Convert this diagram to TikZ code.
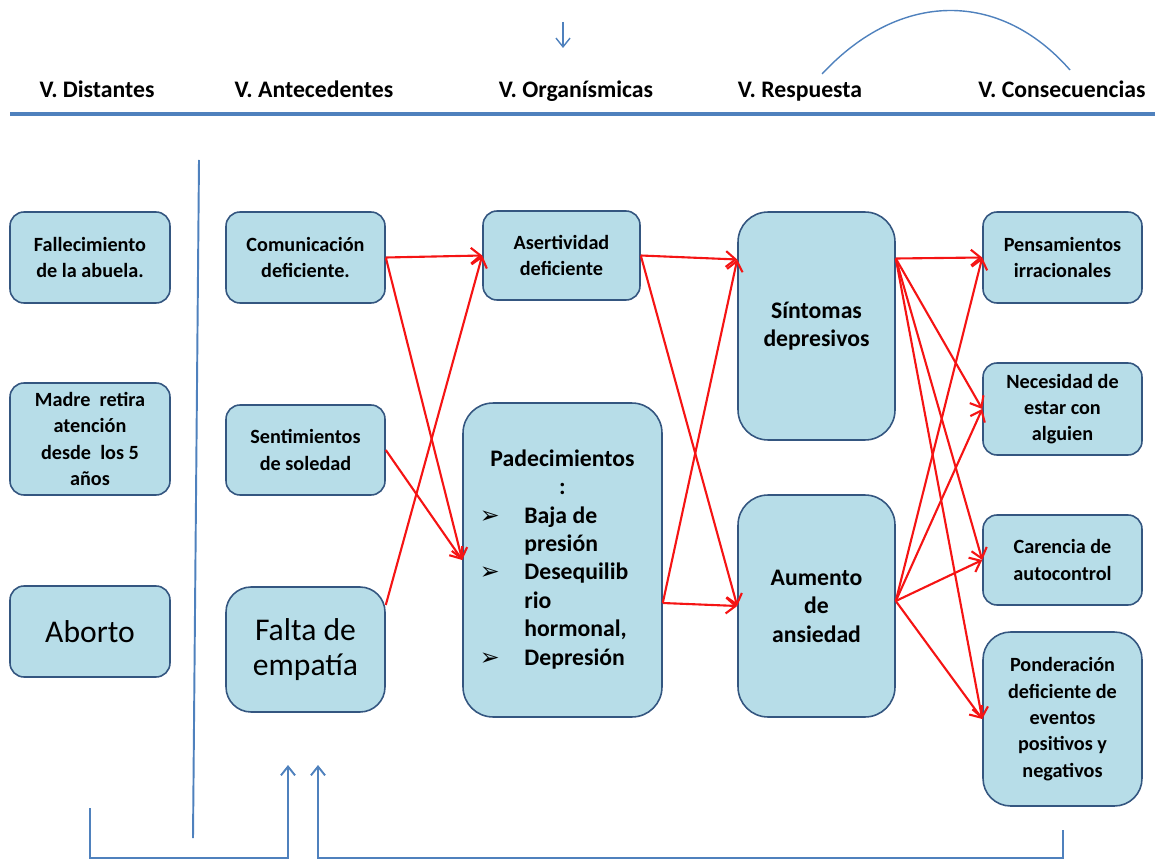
\documentclass[tikz,border=0pt]{standalone}
\usepackage{fontspec}
\setmainfont{Carlito}
\newfontfamily\dingfont{DejaVu Sans}
\usepackage{xcolor}
\usepackage{tikz}
\usetikzlibrary{arrows.meta,positioning,calc}
\definecolor{boxblue}{RGB}{183,221,232}
\definecolor{borderblue}{RGB}{52,86,128}
\definecolor{lineblue}{RGB}{79,129,189}
\definecolor{arrowred}{RGB}{245,20,20}

\begin{document}
\begin{tikzpicture}[x=0.02cm, y=-0.02cm,
    box/.style={rectangle, rounded corners=0.28cm, draw=borderblue, line width=0.9pt, fill=boxblue, align=center, inner sep=0pt, font=\bfseries\fontsize{11.5}{15}\selectfont},
    bigbox/.style={box, rounded corners=0.6cm, font=\bfseries\fontsize{13.5}{16.2}\selectfont},
    largetext/.style={font=\fontsize{18}{20}\selectfont},
    head/.style={anchor=base, font=\bfseries\fontsize{13.5}{16}\selectfont},
    redarrow/.style={draw=arrowred, line width=1.2pt, -{Straight Barb[length=5.5pt,width=9pt]}},
    blueline/.style={draw=lineblue, line width=1.1pt},
    bluearrow/.style={blueline, -{Straight Barb[length=5pt,width=8pt]}}]
  \useasboundingbox (0,0) rectangle (1155,861);

  % column titles
  \node[head] (hdist) at (97,98) {V. Distantes};
  \node[head] (hante) at (314,98) {V. Antecedentes};
  \node[head] (horg) at (576,98) {V. Organísmicas};
  \node[head] (hresp) at (800,98) {V. Respuesta};
  \node[head] (hcons) at (1062,98) {V. Consecuencias};

  % free line ends
  \coordinate (rulel) at (10,114);
  \coordinate (ruler) at (1155,114);
  \coordinate (downtop) at (563,22);
  \coordinate (downbot) at (563,48);
  \coordinate (arcl) at (822,74);
  \coordinate (arcr) at (1070,70);
  \coordinate (divtop) at (199,160);
  \coordinate (divbot) at (193,838);
  \coordinate (lbstart) at (90,808);
  \coordinate (lbtip) at (288,765);
  \coordinate (rbstart) at (1063,830);
  \coordinate (rbtip) at (318,765);

  % distant
  \node[box, minimum width=3.2cm, minimum height=1.82cm] (fall) at (90,257.5) {Fallecimiento\\de la abuela.};
  \node[box, minimum width=3.2cm, minimum height=2.24cm] (madre) at (90,439) {Madre~~retira\\atención\\desde~~los 5\\años};
  \node[box, largetext, minimum width=3.2cm, minimum height=1.82cm] (aborto) at (90,631.5) {Aborto};

  % antecedents
  \node[box, minimum width=3.18cm, minimum height=1.82cm] (com) at (305.5,257.5) {Comunicación\\deficiente.};
  \node[box, minimum width=3.18cm, minimum height=1.8cm] (sent) at (305.5,450) {Sentimientos\\de soledad};
  \node[box, largetext, rounded corners=0.5cm, minimum width=3.18cm, minimum height=2.5cm] (falta) at (305.5,649.5) {Falta de\\empatía};

  % organismic
  \node[box, minimum width=3.14cm, minimum height=1.78cm] (ase) at (561.5,255.5) {Asertividad\\deficiente};
  \node[bigbox, minimum width=3.98cm, minimum height=6.28cm] (pad) at (562.5,560) {%
    \begin{tabular}{@{}l@{\hspace{14pt}}l@{}}
      \multicolumn{2}{c}{Padecimientos}\\
      \multicolumn{2}{c}{:}\\
      {\dingfont\mdseries ➢} & Baja de\\
       & presión\\
      {\dingfont\mdseries ➢} & Desequilib\\
       & rio\\
       & hormonal,\\
      {\dingfont\mdseries ➢} & Depresión
    \end{tabular}};

  % response
  \node[bigbox, minimum width=3.14cm, minimum height=4.56cm] (sint) at (816.5,326) {Síntomas\\depresivos};
  \node[bigbox, minimum width=3.14cm, minimum height=4.44cm] (aum) at (816.5,606) {Aumento\\de\\ansiedad};

  % consequences
  \node[box, minimum width=3.18cm, minimum height=1.82cm] (pens) at (1062.5,257.5) {Pensamientos\\irracionales};
  \node[box, minimum width=3.18cm, minimum height=1.84cm] (nec) at (1062.5,409) {Necesidad de\\estar con\\alguien};
  \node[box, minimum width=3.18cm, minimum height=1.8cm] (car) at (1062.5,560) {Carencia de\\autocontrol};
  \node[box, rounded corners=0.55cm, minimum width=3.18cm, minimum height=3.48cm] (pond) at (1062.5,719) {Ponderación\\deficiente de\\eventos\\positivos y\\negativos};

  % red links
  \draw[redarrow] (com.east) -- (ase.west);
  \draw[redarrow] (com.east) -- (pad.west);
  \draw[redarrow] (sent.east) -- (pad.west);
  \draw[redarrow] (falta.29) -- (ase.west);
  \draw[redarrow] (ase.east) -- ($(sint.west |- ase.east)+(0,4)$);
  \draw[redarrow] (ase.east) -- (aum.west);
  \draw[redarrow] ($(pad.east |- aum.west)+(0,-3)$) -- (aum.west);
  \draw[redarrow] ($(pad.east |- aum.west)+(0,-3)$) -- ($(sint.west |- ase.east)+(0,4)$);
  \foreach \dest in {pens,nec,car,pond} {
    \draw[redarrow] ($(sint.east |- pens.west)+(0,1)$) -- (\dest.west);
    \draw[redarrow] ($(aum.east)+(0,-5)$) -- (\dest.west);
  }

  % blue lines
  \draw[blueline, line width=1.8pt] (rulel) -- (ruler);
  \draw[bluearrow, line width=0.8pt] (downtop) -- (downbot);
  \draw[blueline, line width=0.8pt] (arcl) .. controls (900,-10) and (1000,-10) .. (arcr);
  \draw[blueline] (divtop) -- (divbot);
  \draw[bluearrow] (lbstart) -- (lbstart |- 0,858) -- (lbtip |- 0,858) -- (lbtip);
  \draw[bluearrow] (rbstart) -- (rbstart |- 0,858) -- (rbtip |- 0,858) -- (rbtip);
\end{tikzpicture}
\end{document}
